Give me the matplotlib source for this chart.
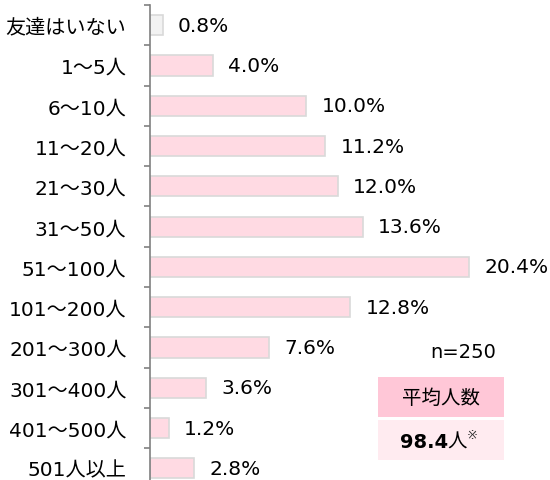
import matplotlib.pyplot as plt
from matplotlib.patches import Rectangle
from matplotlib.ticker import FixedLocator

plt.rcParams['font.family'] = ['DejaVu Sans', 'Noto Sans CJK JP']

# データ
categories = ['友達はいない', '1〜5人', '6〜10人', '11〜20人', '21〜30人', '31〜50人',
              '51〜100人', '101〜200人', '201〜300人', '301〜400人', '401〜500人', '501人以上']
values = [0.8, 4.0, 10.0, 11.2, 12.0, 13.6, 20.4, 12.8, 7.6, 3.6, 1.2, 2.8]
n_text = 'n=250'
avg_title = '平均人数'
avg_value = '98.4'

W, H = 550, 481
fig = plt.figure(figsize=(W / 100, H / 100), dpi=100)
ax = fig.add_axes([150 / W, 0, 391 / W, 475 / H])

colors = ['#F2F2F2'] + ['#FFDAE3'] * (len(values) - 1)
ypos = list(range(len(values)))
bars = ax.barh(ypos, values, height=0.5, color=colors,
               edgecolor='#D9D9D9', linewidth=1.2)

for b, v in zip(bars, values):
    ax.annotate('%.1f%%' % v, xy=(v, b.get_y() + b.get_height() / 2),
                xytext=(11, 0), textcoords='offset points',
                va='center', ha='left', fontsize=14.5, color='#000000')

ax.set_xlim(0, 25)
ax.set_ylim(11.29, -0.5)
ax.set_yticks(ypos)
ax.set_yticklabels(categories, fontsize=14.5)
ax.yaxis.set_minor_locator(FixedLocator([i - 0.5 for i in range(len(values))]))
ax.tick_params(axis='y', which='major', length=0, pad=17)
ax.tick_params(axis='y', which='minor', length=4, width=1.2, color='#808080')
ax.set_xticks([])
for s in ['top', 'right', 'bottom']:
    ax.spines[s].set_visible(False)
ax.spines['left'].set_color('#808080')
ax.spines['left'].set_linewidth(1.2)


# 平均人数の枠
def px(x, y):
    return x / W, 1 - y / H


fig.patches.append(Rectangle(px(378, 418), 126 / W, 40 / H,
                             transform=fig.transFigure, facecolor='#FFC7D7',
                             edgecolor='none'))
fig.patches.append(Rectangle(px(378, 461), 126 / W, 40 / H,
                             transform=fig.transFigure, facecolor='#FFEBF0',
                             edgecolor='none'))

fig.text(*px(463, 353), n_text, ha='center', va='center', fontsize=14)
fig.text(*px(441, 398), avg_title, ha='center', va='center', fontsize=14)
fig.text(*px(400, 448), avg_value, ha='left', va='baseline',
         fontsize=14, fontweight='bold')
fig.text(*px(447, 448), '人', ha='left', va='baseline', fontsize=14)
fig.text(*px(467, 439), '※', ha='left', va='baseline', fontsize=9.5,
         color='#333333')

fig.savefig('out.png', dpi=100)
